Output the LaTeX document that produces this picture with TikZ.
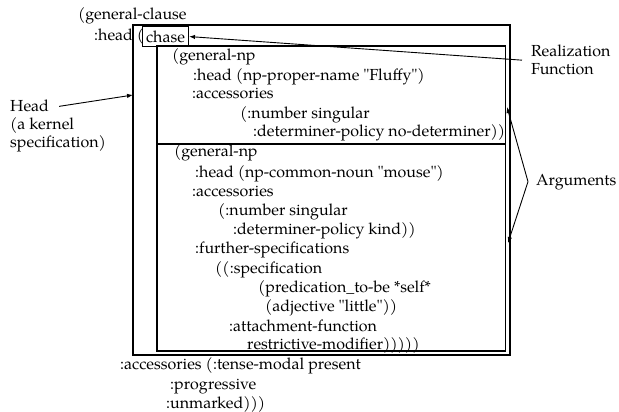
\documentclass[tikz,border=0pt]{standalone}
\usepackage{fontspec}
\setmainfont{texgyrepagella-regular.otf}[Ligatures=TeXOff]
\usetikzlibrary{arrows.meta}
\tikzset{
  code/.style={anchor=base west, inner sep=0pt, font=\fontsize{16pt}{19.5pt}\selectfont},
  lbl/.style={inner sep=0pt, font=\fontsize{16pt}{18pt}\selectfont, align=left},
  frame/.style={draw, line width=1.1pt},
  pointer/.style={line width=0.9pt, -{Latex[length=6pt,width=4.5pt]}},
}
\begin{document}
\begin{tikzpicture}[x=1pt,y=-1pt]
\useasboundingbox (0,0) rectangle (619,412);

% boxes: the clause, its arguments, and the head
\coordinate (oNW) at (133,25);
\coordinate (oSE) at (510,355);
\coordinate (iNW) at (157,46);
\coordinate (iSE) at (505.7,351);
\draw[frame] (oNW) rectangle (oSE);
\draw[frame] (iNW) rectangle (iSE);
\coordinate (sepL) at (157,143.5);
\coordinate (sepR) at (505.7,143.5);
\draw[line width=2pt] (sepL) -- (sepR);

% the specification text
\node[code] (t1) at (78,20) {(general-clause};
\node[code] (t2) at (94,41) {:head (};
\node[frame, inner sep=0pt, minimum width=46pt, minimum height=20pt, anchor=north west,
      font=\fontsize{16pt}{19.5pt}\selectfont] (chase) at (142,26) {chase};
\node[code] (t3) at (172,61) {(general-np};
\node[code] (t4) at (193,81) {:head (np-proper-name "Fluffy")};
\node[code] (t5) at (192,99) {:accessories};
\node[code] (t6) at (240,118) {(:number singular};
\node[code] (t7) at (253,136) {:determiner-policy no-determiner))};
\node[code] (t8) at (174,157) {(general-np};
\node[code] (t9) at (195,177) {:head (np-common-noun "mouse")};
\node[code] (t10) at (192,196) {:accessories};
\node[code] (t11) at (218,215) {(:number singular};
\node[code] (t12) at (233,234) {:determiner-policy kind))};
\node[code] (t13) at (195,253) {:further-specifications};
\node[code] (t14) at (215,273) {((:specification};
\node[code] (t15) at (258,292) {(predication\_to-be *self*};
\node[code] (t16) at (265,311) {(adjective "little"))};
\node[code] (t17) at (229,331) {:attachment-function};
\node[code] (t18) at (247,349) {restrictive-modifier)))))};
\node[code] (t19) at (120,369) {:accessories (:tense-modal present};
\node[code] (t20) at (170,389) {:progressive};
\node[code] (t21) at (166,408) {:unmarked)))};

% annotations
\node[lbl, anchor=north west] (rf) at (531,45) {Realization\\Function};
\node[code] (hd) at (10,112) {Head};
\node[lbl, anchor=north west] (kern) at (10,117) {(a kernel\\specification)};
\node[code] (args) at (536,185) {Arguments};

\coordinate (headTip) at (133,95);
\coordinate (argTop) at (507,107);
\coordinate (argBot) at (508,243);

\draw[pointer] ([xshift=-9pt]rf.west) -- (chase.east);
\draw[pointer] ([xshift=10pt]hd.east) -- (headTip);
\draw[pointer] ([xshift=-8pt]args.west) -- (argTop);
\draw[pointer] ([xshift=-8pt]args.west) -- (argBot);
\end{tikzpicture}
\end{document}
